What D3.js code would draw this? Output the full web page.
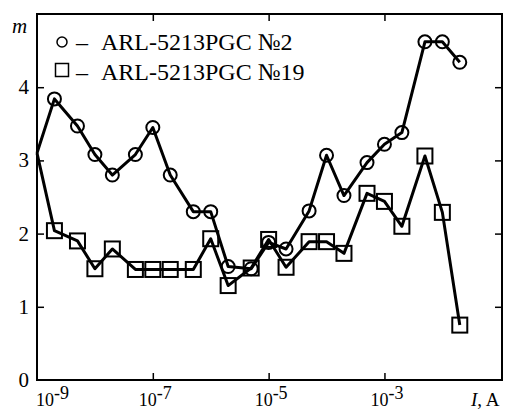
<!DOCTYPE html>
<html>
<head>
<meta charset="utf-8">
<script src="https://cdn.jsdelivr.net/npm/d3@7"></script>
<style>
  body { margin: 0; background: #fff; }
  svg text { font-family: "Liberation Serif", "Times New Roman", serif; fill: #000; }
</style>
</head>
<body>
<svg id="chart" width="508" height="410"></svg>
<script>
// current, A
const currents = [1e-9, 2e-9, 5e-9, 1e-8, 2e-8, 5e-8, 1e-7, 2e-7, 5e-7, 1e-6, 2e-6, 5e-6,
    1e-5, 2e-5, 5e-5, 1e-4, 2e-4, 5e-4, 1e-3, 2e-3, 5e-3, 1e-2, 2e-2];
// m for sample No 2 (circles)
const sample2 = [3.10, 3.84, 3.47, 3.08, 2.80, 3.08, 3.45, 2.80, 2.30, 2.30, 1.55, 1.52,
    1.88, 1.79, 2.31, 3.07, 2.52, 2.97, 3.22, 3.38, 4.62, 4.62, 4.34];
// m for sample No 19 (squares)
const sample19 = [3.10, 2.04, 1.90, 1.52, 1.79, 1.51, 1.51, 1.51, 1.51, 1.93, 1.29, 1.53,
    1.92, 1.54, 1.89, 1.89, 1.73, 2.55, 2.44, 2.10, 3.06, 2.29, 0.75];

const yTicks = [0, 1, 2, 3, 4];
const xTicks = [1e-9, 1e-7, 1e-5, 1e-3];
const xTickExp = ['-9', '-7', '-5', '-3'];
const legendNames = ['ARL-5213PGC №2', 'ARL-5213PGC №19'];

const svg = d3.select('#chart');
const plot = {left: 37, right: 502, top: 14, bottom: 380};

const x = d3.scaleLog()
    .domain([1e-9, Math.pow(10, -0.97)])
    .range([plot.left, plot.right]);

const y = d3.scaleLinear()
    .domain([0, 5])
    .range([plot.bottom, plot.top]);

// frame
svg.append('rect')
    .attr('x', plot.left).attr('y', plot.top)
    .attr('width', plot.right - plot.left).attr('height', plot.bottom - plot.top)
    .attr('fill', 'none').attr('stroke', '#000').attr('stroke-width', 2);

// inward ticks on all sides
svg.append('g')
    .attr('transform', `translate(${plot.left},0)`)
    .call(d3.axisRight(y).tickValues(yTicks.slice(1)).tickSize(7).tickFormat(''))
    .call(g => g.select('.domain').remove())
    .selectAll('line').attr('stroke-width', 1.5);

svg.append('g')
    .attr('transform', `translate(${plot.right},0)`)
    .call(d3.axisLeft(y).tickValues(yTicks.slice(1)).tickSize(7).tickFormat(''))
    .call(g => g.select('.domain').remove())
    .selectAll('line').attr('stroke-width', 1.5);

svg.append('g')
    .attr('transform', `translate(0,${plot.bottom})`)
    .call(d3.axisTop(x).tickValues(xTicks.slice(1)).tickSize(7).tickFormat(''))
    .call(g => g.select('.domain').remove())
    .selectAll('line').attr('stroke-width', 1.5);

svg.append('g')
    .attr('transform', `translate(0,${plot.top})`)
    .call(d3.axisBottom(x).tickValues(xTicks.slice(1)).tickSize(7).tickFormat(''))
    .call(g => g.select('.domain').remove())
    .selectAll('line').attr('stroke-width', 1.5);

// y tick labels
svg.append('g').selectAll('text')
    .data(yTicks)
    .join('text')
    .attr('x', 29)
    .attr('y', d => y(d) + 7)
    .attr('text-anchor', 'end')
    .attr('font-size', 21)
    .text(d => d);

// x tick labels (10 with superscript)
const xl = svg.append('g').selectAll('text')
    .data(xTicks)
    .join('text')
    .attr('x', (d, i) => i === 0 ? 36 : x(d) - 14)
    .attr('y', 406)
    .attr('font-size', 18);
xl.append('tspan').text('10');
xl.append('tspan').attr('dy', -7).text((d, i) => xTickExp[i]);

// axis titles
svg.append('text')
    .attr('x', 12).attr('y', 33)
    .attr('font-size', 21)
    .attr('font-style', 'italic')
    .text('m');

const xt = svg.append('text')
    .attr('x', 471).attr('y', 406)
    .attr('font-size', 19);
xt.append('tspan').attr('font-style', 'italic').text('I');
xt.append('tspan').text(', A');

// series
const line = d3.line()
    .x(d => x(d[0]))
    .y(d => y(d[1]));

const pts2 = currents.map((c, i) => [c, sample2[i]]);
const pts19 = currents.map((c, i) => [c, sample19[i]]);

svg.append('path')
    .datum(pts19)
    .attr('d', line)
    .attr('fill', 'none')
    .attr('stroke', '#000')
    .attr('stroke-width', 3)
    .attr('stroke-linejoin', 'round');

svg.append('path')
    .datum(pts2)
    .attr('d', line)
    .attr('fill', 'none')
    .attr('stroke', '#000')
    .attr('stroke-width', 3)
    .attr('stroke-linejoin', 'round');

// markers (first point sits on the frame, no marker)
const sq = 15;
svg.append('g').selectAll('rect')
    .data(pts19.slice(1))
    .join('rect')
    .attr('x', d => x(d[0]) - sq / 2)
    .attr('y', d => y(d[1]) - sq / 2)
    .attr('width', sq).attr('height', sq)
    .attr('fill', 'none')
    .attr('stroke', '#000')
    .attr('stroke-width', 2);

svg.append('g').selectAll('circle')
    .data(pts2.slice(1))
    .join('circle')
    .attr('cx', d => x(d[0]))
    .attr('cy', d => y(d[1]))
    .attr('r', 6.5)
    .attr('fill', 'none')
    .attr('stroke', '#000')
    .attr('stroke-width', 2);

// legend
svg.append('circle')
    .attr('cx', 62).attr('cy', 42).attr('r', 5)
    .attr('fill', 'none').attr('stroke', '#000').attr('stroke-width', 1.5);
svg.append('rect')
    .attr('x', 55.5).attr('y', 63.5).attr('width', 13).attr('height', 13)
    .attr('fill', 'none').attr('stroke', '#000').attr('stroke-width', 1.5);

svg.append('g').selectAll('text')
    .data(legendNames)
    .join('text')
    .attr('y', (d, i) => 50 + i * 30)
    .attr('font-size', 24)
    .call(t => t.append('tspan').attr('x', 76).text('–'))
    .call(t => t.append('tspan').attr('x', 101).text(d => d));
</script>
</body>
</html>
